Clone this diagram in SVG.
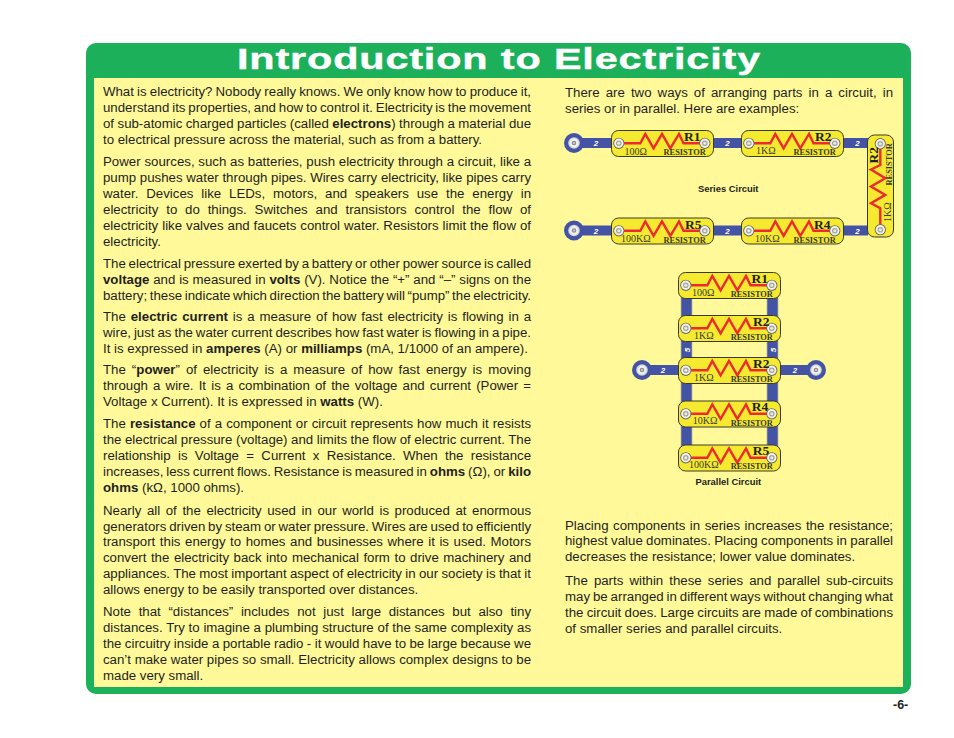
<svg xmlns="http://www.w3.org/2000/svg" width="954" height="738" viewBox="0 0 954 738">
<style>
.t{font:13.25px "Liberation Sans",Arial,sans-serif;fill:#231f20}
.b{font-weight:bold}
.cap{font:bold 9.4px "Liberation Sans",Arial,sans-serif;fill:#231f20}
.num{font:italic bold 8px "Liberation Sans",Arial,sans-serif;fill:#fff;text-anchor:middle}
.rn{font:bold 13.500px "Liberation Serif","Times New Roman",serif;fill:#231f20}
.rv{font:10px "Liberation Serif","Times New Roman",serif;fill:#3a3a30}
.rl{font:bold 8.400px "Liberation Serif","Times New Roman",serif;fill:#3a3a30}
.wire{stroke:#4353a6;stroke-width:10;fill:none}
.edge{stroke:#9a9a92;stroke-width:11.500;fill:none}
</style>
<defs>
<g id="snap"><circle r="5.600" fill="#6a6a5c"/><circle r="4.700" fill="#f3f3ec"/><circle r="2.800" fill="#a5a59c"/><circle r="1.500" fill="#ecece6"/></g>
<g id="term"><circle r="10" fill="#4353a6"/><circle r="5.800" fill="#d6d6d2"/><circle r="4.400" fill="#f1f1ee"/><circle r="2.300" fill="#8d8d8d"/><circle r="1" fill="#d8d8d4"/></g>
<g id="res">
<rect x="0.500" y="0.500" width="102" height="26" rx="7" fill="#f5ea30" stroke="#3a3a2a" stroke-width="1"/>
<polyline points="13,13.300 29.300,13.300 34.300,4 42.600,18.300 51,4 59.300,18.300 68,4 72.500,13.300 90,13.300" fill="none" stroke="#ed2a32" stroke-width="2.400"/>
<use href="#snap" x="7.800" y="13.300"/><use href="#snap" x="93.800" y="13.300"/>
</g>
</defs>
<rect width="954" height="738" fill="#fff"/>
<rect id="frame" x="86" y="43" width="825" height="651" rx="10" fill="#1cb05a"/>
<rect id="panel" x="94" y="78" width="809" height="609" fill="#fff99a"/>
<text x="237" y="68.500" font-family="Liberation Sans,Arial,sans-serif" font-weight="bold" font-size="29" letter-spacing="0.600" fill="#fff" stroke="#fff" stroke-width="0.400" textLength="524" lengthAdjust="spacingAndGlyphs">Introduction to Electricity</text>

<g id="left-text">
<text class="t" x="103" y="96" word-spacing="-0.500" textLength="428">What is electricity? Nobody really knows. We only know how to produce it,</text>
<text class="t" x="103" y="112" word-spacing="-0.820" textLength="428">understand its properties, and how to control it. Electricity is the movement</text>
<text class="t" x="103" y="128" word-spacing="-0.200" textLength="428">of sub-atomic charged particles (called <tspan class="b">electrons</tspan>) through a material due</text>
<text class="t" x="103" y="144">to electrical pressure across the material, such as from a battery.</text>
<text class="t" x="103" y="166" textLength="428">Power sources, such as batteries, push electricity through a circuit, like a</text>
<text class="t" x="103" y="182" textLength="428">pump pushes water through pipes. Wires carry electricity, like pipes carry</text>
<text class="t" x="103" y="198" word-spacing="4.200" textLength="428">water. Devices like LEDs, motors, and speakers use the energy in</text>
<text class="t" x="103" y="214" word-spacing="4.100" textLength="428">electricity to do things. Switches and transistors control the flow of</text>
<text class="t" x="103" y="230" word-spacing="0.270" textLength="428">electricity like valves and faucets control water. Resistors limit the flow of</text>
<text class="t" x="103" y="246">electricity.</text>
<text class="t" x="103" y="268" word-spacing="-0.920" textLength="428">The electrical pressure exerted by a battery or other power source is called</text>
<text class="t" x="103" y="284" word-spacing="0.140" textLength="428"><tspan class="b">voltage</tspan> and is measured in <tspan class="b">volts</tspan> (V). Notice the “+” and “–” signs on the</text>
<text class="t" x="103" y="300" word-spacing="-1" textLength="428">battery; these indicate which direction the battery will “pump” the electricity.</text>
<text class="t" x="103" y="321" word-spacing="1.140" textLength="428">The <tspan class="b">electric current</tspan> is a measure of how fast electricity is flowing in a</text>
<text class="t" x="103" y="337" word-spacing="-0.670" textLength="428">wire, just as the water current describes how fast water is flowing in a pipe.</text>
<text class="t" x="103" y="353">It is expressed in <tspan class="b">amperes</tspan> (A) or <tspan class="b">milliamps</tspan> (mA, 1/1000 of an ampere).</text>
<text class="t" x="103" y="374" word-spacing="2.230" textLength="428">The “<tspan class="b">power</tspan>” of electricity is a measure of how fast energy is moving</text>
<text class="t" x="103" y="390" word-spacing="1.460" textLength="428">through a wire. It is a combination of the voltage and current (Power =</text>
<text class="t" x="103" y="406">Voltage x Current). It is expressed in <tspan class="b">watts</tspan> (W).</text>
<text class="t" x="103" y="428" word-spacing="0.360" textLength="428">The <tspan class="b">resistance</tspan> of a component or circuit represents how much it resists</text>
<text class="t" x="103" y="444" word-spacing="-0.100" textLength="428">the electrical pressure (voltage) and limits the flow of electric current. The</text>
<text class="t" x="103" y="460" word-spacing="3.670" textLength="428">relationship is Voltage = Current x Resistance. When the resistance</text>
<text class="t" x="103" y="476" word-spacing="-0.730" textLength="428">increases, less current flows. Resistance is measured in <tspan class="b">ohms</tspan> (Ω), or <tspan class="b">kilo</tspan></text>
<text class="t" x="103" y="492"><tspan class="b">ohms</tspan> (kΩ, 1000 ohms).</text>
<text class="t" x="103" y="515" word-spacing="1.900" textLength="428">Nearly all of the electricity used in our world is produced at enormous</text>
<text class="t" x="103" y="531" word-spacing="-0.820" textLength="428">generators driven by steam or water pressure. Wires are used to efficiently</text>
<text class="t" x="103" y="546" word-spacing="0.900" textLength="428">transport this energy to homes and businesses where it is used. Motors</text>
<text class="t" x="103" y="562" word-spacing="0.900" textLength="428">convert the electricity back into mechanical form to drive machinery and</text>
<text class="t" x="103" y="578" word-spacing="-0.330" textLength="428">appliances. The most important aspect of electricity in our society is that it</text>
<text class="t" x="103" y="594">allows energy to be easily transported over distances.</text>
<text class="t" x="103" y="616" word-spacing="4" textLength="428">Note that “distances” includes not just large distances but also tiny</text>
<text class="t" x="103" y="632" word-spacing="0.090" textLength="428">distances. Try to imagine a plumbing structure of the same complexity as</text>
<text class="t" x="103" y="648" word-spacing="-0.200" textLength="428">the circuitry inside a portable radio - it would have to be large because we</text>
<text class="t" x="103" y="664" textLength="428">can’t make water pipes so small. Electricity allows complex designs to be</text>
<text class="t" x="103" y="680">made very small.</text>
</g>
<g id="right-text">
<text class="t" x="565" y="97" word-spacing="2.400" textLength="328">There are two ways of arranging parts in a circuit, in</text>
<text class="t" x="565" y="113">series or in parallel. Here are examples:</text>
<text class="t" x="565" y="530" word-spacing="0.830" textLength="328">Placing components in series increases the resistance;</text>
<text class="t" x="565" y="545" word-spacing="-0.330" textLength="328">highest value dominates. Placing components in parallel</text>
<text class="t" x="565" y="561">decreases the resistance; lower value dominates.</text>
<text class="t" x="565" y="585" word-spacing="2.430" textLength="328">The parts within these series and parallel sub-circuits</text>
<text class="t" x="565" y="601" word-spacing="-0.750" textLength="328">may be arranged in different ways without changing what</text>
<text class="t" x="565" y="617" word-spacing="-0.500" textLength="328">the circuit does. Large circuits are made of combinations</text>
<text class="t" x="565" y="633">of smaller series and parallel circuits.</text>
</g>

<g id="connectors">
<path class="wire" d="M574 143H611M713 143H741M843 143H868M574 230.500H611M713 230.500H741M843 230.500H868"/>
<path class="edge" d="M686.500 285V460M772.500 285V460"/>
<path class="wire" d="M686.500 285V460M772.500 285V460M642 370H678M781 370H816"/>
<text class="num" x="596" y="146">2</text><text class="num" x="727.500" y="146">2</text><text class="num" x="857.500" y="146">2</text>
<text class="num" x="596" y="233.500">2</text><text class="num" x="727.500" y="233.500">2</text><text class="num" x="857.500" y="233.500">2</text>
<text class="num" x="663" y="373">2</text><text class="num" x="795" y="373">2</text>
<text class="num" transform="translate(689.500 350) rotate(-90)">5</text><text class="num" transform="translate(775.500 350) rotate(-90)">5</text>
</g>

<use id="t1" href="#term" x="574" y="143"/>
<use id="t2" href="#term" x="574" y="230.500"/>
<use id="t3" href="#term" x="642" y="370"/>
<use id="t4" href="#term" x="816" y="370"/>

<g id="s-r1" transform="translate(611 130)"><use href="#res"/><text class="rn" x="73" y="11">R1</text><text class="rv" x="13.500" y="24.500">100Ω</text><text class="rl" x="52.500" y="25">RESISTOR</text></g>
<g id="s-r2" transform="translate(741 130)"><use href="#res"/><text class="rn" x="74" y="11">R2</text><text class="rv" x="15" y="24">1KΩ</text><text class="rl" x="52.500" y="25">RESISTOR</text></g>
<g id="s-r2v" transform="translate(867 237.500) rotate(-90)"><use href="#res"/><text class="rn" x="74" y="11">R2</text><text class="rv" x="15.500" y="24">1KΩ</text><text class="rl" x="52" y="24.500">RESISTOR</text></g>
<g id="s-r5" transform="translate(611 217.500)"><use href="#res"/><text class="rn" x="74" y="11">R5</text><text class="rv" x="10" y="24.500">100KΩ</text><text class="rl" x="52.500" y="25">RESISTOR</text></g>
<g id="s-r4" transform="translate(741 217.500)"><use href="#res"/><text class="rn" x="73" y="11">R4</text><text class="rv" x="14" y="24.500">10KΩ</text><text class="rl" x="52.500" y="25">RESISTOR</text></g>
<text class="cap" x="698" y="191.500">Series Circuit</text>

<g id="p-r1" transform="translate(678 272)"><use href="#res"/><text class="rn" x="73.500" y="10.500">R1</text><text class="rv" x="14" y="24">100Ω</text><text class="rl" x="52.700" y="25">RESISTOR</text></g>
<g id="p-r2" transform="translate(678 315)"><use href="#res"/><text class="rn" x="75" y="10.500">R2</text><text class="rv" x="16" y="24">1KΩ</text><text class="rl" x="52.700" y="25">RESISTOR</text></g>
<g id="p-r3" transform="translate(678 357)"><use href="#res"/><text class="rn" x="75" y="10.500">R2</text><text class="rv" x="16" y="24">1KΩ</text><text class="rl" x="52.700" y="25">RESISTOR</text></g>
<g id="p-r4" transform="translate(678 400.500)"><use href="#res"/><text class="rn" x="73.700" y="10.500">R4</text><text class="rv" x="14.700" y="23.500">10KΩ</text><text class="rl" x="52.700" y="25">RESISTOR</text></g>
<g id="p-r5" transform="translate(678 444.500)"><use href="#res"/><text class="rn" x="74.700" y="10">R5</text><text class="rv" x="11" y="23">100KΩ</text><text class="rl" x="52.700" y="24.500">RESISTOR</text></g>
<text class="cap" x="695.500" y="484.500">Parallel Circuit</text>
<text x="893" y="709" font-family="Liberation Sans,Arial,sans-serif" font-weight="bold" font-size="12.500" fill="#231f20">-6-</text>
</svg>
